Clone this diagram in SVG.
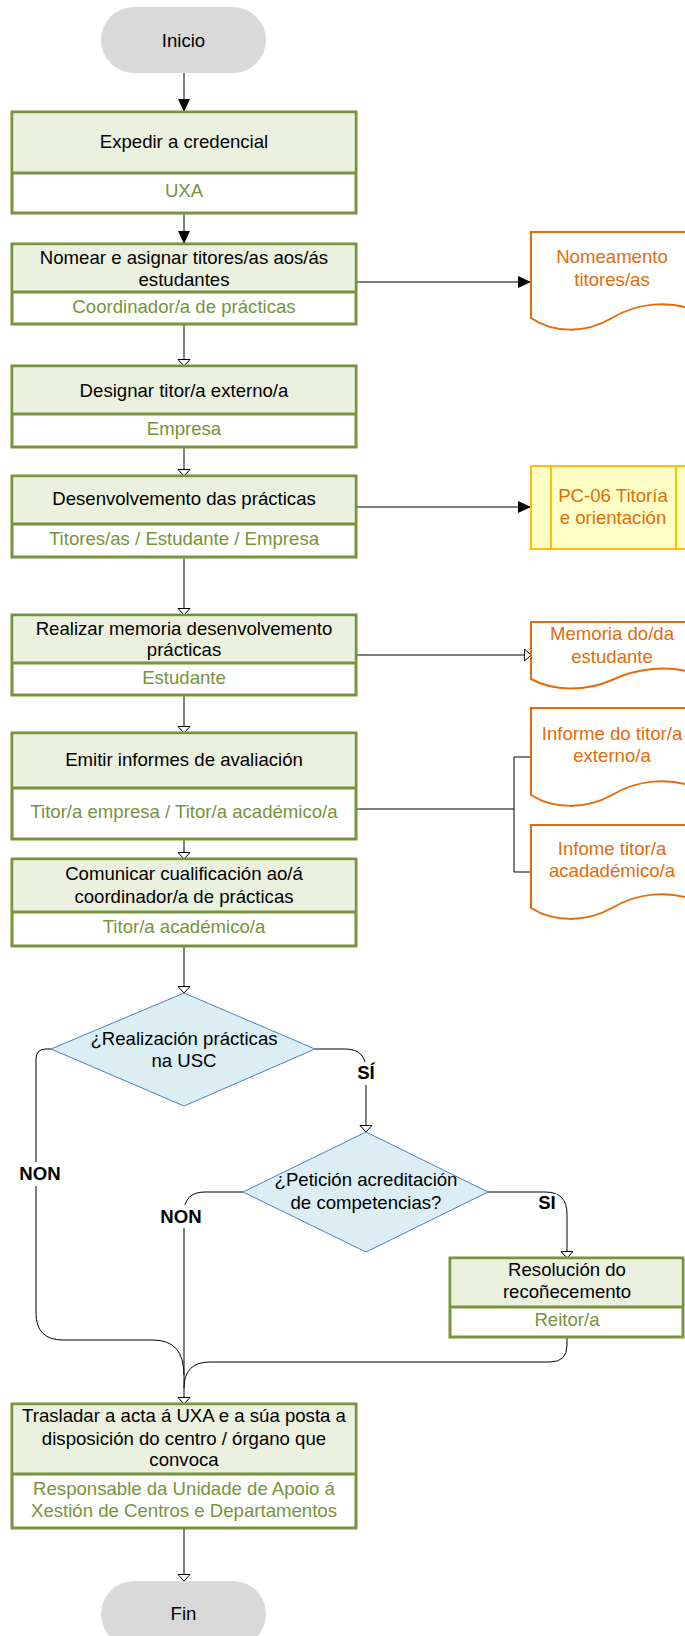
<svg xmlns="http://www.w3.org/2000/svg" width="685" height="1636" viewBox="0 0 685 1636">
<style>
.t{font-family:"Liberation Sans",Arial,sans-serif;font-size:18.6px;text-anchor:middle;fill:#000}
.s{fill:#77933C}
.o{fill:#E36C09}
.b{font-weight:bold}
.box{fill:#fff;stroke:#77933C;stroke-width:3}
.hd{fill:#EBF1DE}
.dv{stroke:#77933C;stroke-width:3}
.pill{fill:#D9D9D9}
.doc{fill:#fff;stroke:#E36C09;stroke-width:2}
.dia{fill:#DAEEF3;stroke:#4F81BD;stroke-width:1}
.c{fill:none;stroke:#000;stroke-width:1}
.lb{fill:#fff}
</style>
<defs>
<marker id="af" markerWidth="14" markerHeight="14" refX="13" refY="6" orient="auto" markerUnits="userSpaceOnUse"><path d="M0,0 L13,6 L0,12 z" fill="#000"/></marker>
<marker id="ah" markerWidth="10" markerHeight="14" refX="7" refY="6.5" orient="auto" markerUnits="userSpaceOnUse"><path d="M0.5,0.5 L7,6.5 L0.5,12.5 z" fill="#fff" stroke="#000" stroke-width="1"/></marker>
</defs>

<g id="connectors">
<path class="c" d="M184,73 V112" marker-end="url(#af)"/>
<path class="c" d="M184,213 V244" marker-end="url(#af)"/>
<path class="c" d="M356,282 H531" marker-end="url(#af)"/>
<path class="c" d="M184,324 V366" marker-end="url(#ah)"/>
<path class="c" d="M184,447 V476" marker-end="url(#ah)"/>
<path class="c" d="M356,507 H531" marker-end="url(#af)"/>
<path class="c" d="M184,557 V615" marker-end="url(#ah)"/>
<path class="c" d="M356,655 H531" marker-end="url(#ah)"/>
<path class="c" d="M184,695 V733" marker-end="url(#ah)"/>
<path class="c" d="M356,809 H514 M514,757 V872 M514,757 H531 M514,872 H531"/>
<path class="c" d="M184,839 V859" marker-end="url(#ah)"/>
<path class="c" d="M184,946 V993" marker-end="url(#ah)"/>
<path class="c" d="M315,1049 H345 Q366,1049 366,1070 V1132" marker-end="url(#ah)"/>
<path class="c" d="M51,1049 H46 Q36,1049 36,1059 V1313 Q36,1340 63,1340 H153 Q184,1340 184,1375"/>
<path class="c" d="M243,1192 H205 Q184,1192 184,1213 V1404" marker-end="url(#ah)"/>
<path class="c" d="M488,1192 H545 Q567,1192 567,1214 V1258" marker-end="url(#ah)"/>
<path class="c" d="M567,1337 V1345 Q567,1362 550,1362 H210 Q184,1362 184,1388"/>
<path class="c" d="M184,1528 V1581" marker-end="url(#ah)"/>
<rect class="lb" x="352" y="1062" width="28" height="23"/>
<text class="t b" x="366" y="1079">SÍ</text>
<rect class="lb" x="17" y="1162" width="46" height="24"/>
<text class="t b" x="40" y="1180">NON</text>
<rect class="lb" x="158" y="1205" width="46" height="23"/>
<text class="t b" x="181" y="1223">NON</text>
<rect class="lb" x="536" y="1194" width="21" height="19"/>
<text class="t b" x="547" y="1209">SI</text>
</g>

<g id="inicio">
<rect class="pill" x="101" y="7" width="165" height="66" rx="33"/>
<text class="t" x="183.5" y="47">Inicio</text>
</g>

<g id="expedir">
<rect class="box" x="12" y="112" width="344" height="101"/>
<rect class="hd" x="13.5" y="113.5" width="341" height="59.5"/>
<line class="dv" x1="12" y1="173" x2="356" y2="173"/>
<text class="t" x="184" y="148">Expedir a credencial</text>
<text class="t s" x="184" y="197">UXA</text>
</g>

<g id="nomear">
<rect class="box" x="12" y="244" width="344" height="80"/>
<rect class="hd" x="13.5" y="245.5" width="341" height="46.5"/>
<line class="dv" x1="12" y1="292" x2="356" y2="292"/>
<text class="t" x="184" y="264">Nomear e asignar titores/as aos/ás</text>
<text class="t" x="184" y="286">estudantes</text>
<text class="t s" x="184" y="313">Coordinador/a de prácticas</text>
</g>

<g id="doc-nomeamento">
<path class="doc" d="M531,232 H694 V310 C668,300 637,303 612,318 C585,334 553,333 531,318 Z"/>
<text class="t o" x="612" y="263">Nomeamento</text>
<text class="t o" x="612" y="286">titores/as</text>
</g>

<g id="designar">
<rect class="box" x="12" y="366" width="344" height="81"/>
<rect class="hd" x="13.5" y="367.5" width="341" height="46.5"/>
<line class="dv" x1="12" y1="414" x2="356" y2="414"/>
<text class="t" x="184" y="397">Designar titor/a externo/a</text>
<text class="t s" x="184" y="435">Empresa</text>
</g>

<g id="desenvolvemento">
<rect class="box" x="12" y="476" width="344" height="81"/>
<rect class="hd" x="13.5" y="477.5" width="341" height="46.5"/>
<line class="dv" x1="12" y1="524" x2="356" y2="524"/>
<text class="t" x="184" y="505">Desenvolvemento das prácticas</text>
<text class="t s" x="184" y="545">Titores/as / Estudante / Empresa</text>
</g>

<g id="pc06">
<rect x="531" y="466" width="165" height="83" fill="#FFFFC6" stroke="#FFC000" stroke-width="2"/>
<line x1="551" y1="466" x2="551" y2="549" stroke="#FFC000" stroke-width="2"/>
<line x1="676" y1="466" x2="676" y2="549" stroke="#FFC000" stroke-width="2"/>
<text class="t o" x="613" y="502">PC-06 Titoría</text>
<text class="t o" x="613" y="524">e orientación</text>
</g>

<g id="realizar">
<rect class="box" x="12" y="615" width="344" height="80"/>
<rect class="hd" x="13.5" y="616.5" width="341" height="46.5"/>
<line class="dv" x1="12" y1="663" x2="356" y2="663"/>
<text class="t" x="184" y="635">Realizar memoria desenvolvemento</text>
<text class="t" x="184" y="656">prácticas</text>
<text class="t s" x="184" y="684">Estudante</text>
</g>

<g id="doc-memoria">
<path class="doc" d="M531,622 H694 V673 C668,665 637,668 612,680 C585,692 553,691 531,679 Z"/>
<text class="t o" x="612" y="640">Memoria do/da</text>
<text class="t o" x="612" y="663">estudante</text>
</g>

<g id="emitir">
<rect class="box" x="12" y="733" width="344" height="106"/>
<rect class="hd" x="13.5" y="734.5" width="341" height="53.5"/>
<line class="dv" x1="12" y1="788" x2="356" y2="788"/>
<text class="t" x="184" y="766">Emitir informes de avaliación</text>
<text class="t s" x="184" y="818">Titor/a empresa / Titor/a académico/a</text>
</g>

<g id="doc-informe-externo">
<path class="doc" d="M531,708 H694 V787 C668,777 637,780 612,795 C585,810 553,809 531,795 Z"/>
<text class="t o" x="612" y="740">Informe do titor/a</text>
<text class="t o" x="612" y="762">externo/a</text>
</g>

<g id="doc-infome-academico">
<path class="doc" d="M531,825 H694 V900 C668,890 637,893 612,908 C585,923 553,922 531,908 Z"/>
<text class="t o" x="612" y="855">Infome titor/a</text>
<text class="t o" x="612" y="877">acadadémico/a</text>
</g>

<g id="comunicar">
<rect class="box" x="12" y="859" width="344" height="87"/>
<rect class="hd" x="13.5" y="860.5" width="341" height="51.5"/>
<line class="dv" x1="12" y1="912" x2="356" y2="912"/>
<text class="t" x="184" y="880">Comunicar cualificación ao/á</text>
<text class="t" x="184" y="903">coordinador/a de prácticas</text>
<text class="t s" x="184" y="933">Titor/a académico/a</text>
</g>

<g id="decision-usc">
<path class="dia" d="M184,993 L315,1049 L184,1106 L51,1049 Z"/>
<text class="t" x="184" y="1045">¿Realización prácticas</text>
<text class="t" x="184" y="1067">na USC</text>
</g>

<g id="decision-peticion">
<path class="dia" d="M366,1132 L488,1192 L366,1252 L243,1192 Z"/>
<text class="t" x="366" y="1186">¿Petición acreditación</text>
<text class="t" x="366" y="1209">de competencias?</text>
</g>

<g id="resolucion">
<rect class="box" x="450" y="1258" width="233" height="79"/>
<rect class="hd" x="451.5" y="1259.5" width="230" height="47.5"/>
<line class="dv" x1="450" y1="1307" x2="683" y2="1307"/>
<text class="t" x="567" y="1276">Resolución do</text>
<text class="t" x="567" y="1298">recoñecemento</text>
<text class="t s" x="567" y="1326">Reitor/a</text>
</g>

<g id="trasladar">
<rect class="box" x="12" y="1404" width="344" height="124"/>
<rect class="hd" x="13.5" y="1405.5" width="341" height="68.5"/>
<line class="dv" x1="12" y1="1474" x2="356" y2="1474"/>
<text class="t" x="184" y="1422">Trasladar a acta á UXA e a súa posta a</text>
<text class="t" x="184" y="1445">disposición do centro / órgano que</text>
<text class="t" x="184" y="1466">convoca</text>
<text class="t s" x="184" y="1495">Responsable da Unidade de Apoio á</text>
<text class="t s" x="184" y="1517">Xestión de Centros e Departamentos</text>
</g>

<g id="fin">
<rect class="pill" x="101" y="1581" width="165" height="66" rx="33"/>
<text class="t" x="183.5" y="1620">Fin</text>
</g>
</svg>
